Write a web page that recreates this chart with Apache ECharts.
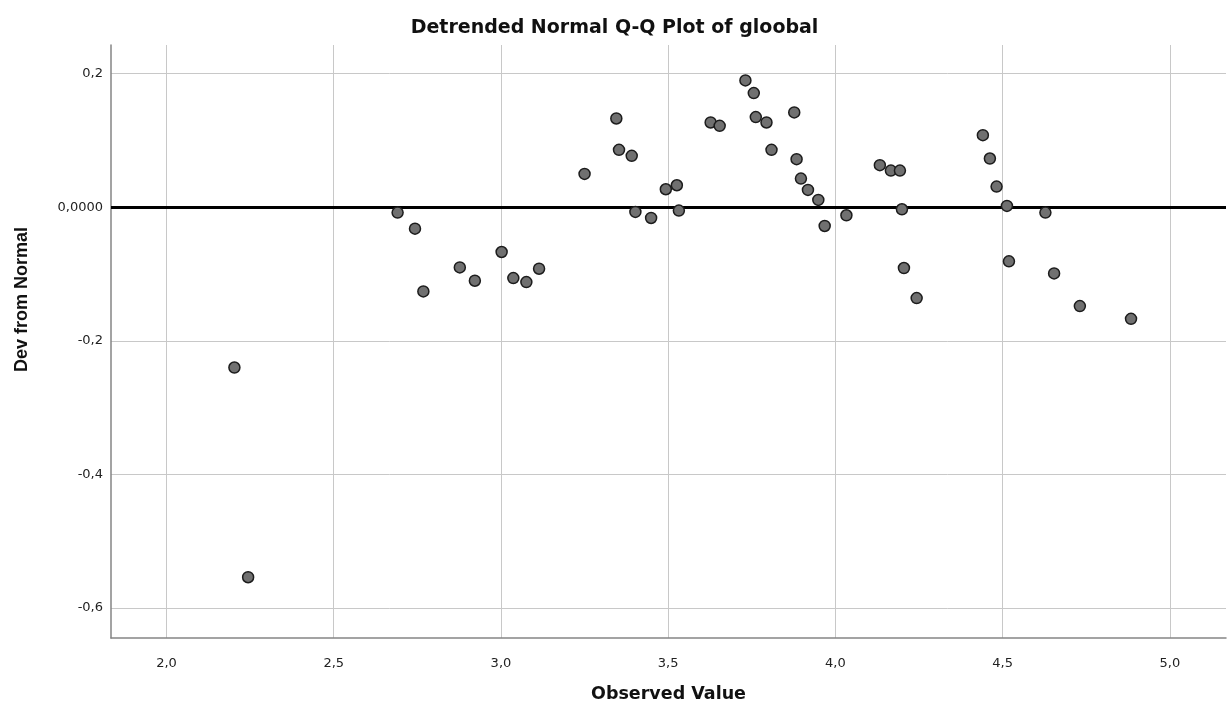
<!DOCTYPE html>
<html>
<head>
<meta charset="utf-8">
<script src="https://cdn.jsdelivr.net/npm/echarts@6/dist/echarts.min.js"></script>
<style>
  html, body { margin: 0; padding: 0; background: #fff; }
  #chart { width: 1229px; height: 716px; }
</style>
</head>
<body>
<div id="chart"></div>
<script>
const observed = [
  2.203, 2.244, 2.691, 2.743, 2.768, 2.877, 2.922, 3.002, 3.037, 3.076,
  3.114, 3.250, 3.345, 3.353, 3.391, 3.402, 3.449, 3.493, 3.526, 3.532,
  3.627, 3.654, 3.731, 3.756, 3.762, 3.794, 3.809, 3.877, 3.884, 3.897,
  3.918, 3.949, 3.968, 4.033, 4.133, 4.166, 4.193, 4.199, 4.205, 4.243,
  4.441, 4.462, 4.482, 4.513, 4.519, 4.628, 4.654, 4.731, 4.884
];
const devFromNormal = [
  -0.240, -0.554, -0.008, -0.032, -0.126, -0.090, -0.110, -0.067, -0.106, -0.112,
  -0.092, 0.050, 0.133, 0.086, 0.077, -0.007, -0.016, 0.027, 0.033, -0.005,
  0.127, 0.122, 0.190, 0.171, 0.135, 0.127, 0.086, 0.142, 0.072, 0.043,
  0.026, 0.011, -0.028, -0.012, 0.063, 0.055, 0.055, -0.003, -0.091, -0.136,
  0.108, 0.073, 0.031, 0.002, -0.081, -0.008, -0.099, -0.148, -0.167
];
const referenceLine = [0];

const points = observed.map((x, i) => [x, devFromNormal[i]]);

const FONT = 'DejaVu Sans';
const comma = (v, d) => v.toFixed(d).replace('.', ',');

const chart = echarts.init(document.getElementById('chart'));
chart.setOption({
  backgroundColor: '#ffffff',
  animation: false,
  title: {
    text: 'Detrended Normal Q-Q Plot of gloobal',
    left: 'center',
    top: 14,
    textStyle: { fontFamily: FONT, fontSize: 19, fontWeight: 'bold', color: '#111' }
  },
  grid: { left: 111, right: 3, top: 45, bottom: 78, containLabel: false },
  xAxis: {
    type: 'value',
    min: 1.834,
    max: 5.168,
    splitNumber: 6,
    name: 'Observed Value',
    nameLocation: 'middle',
    nameGap: 47,
    nameTextStyle: { fontFamily: FONT, fontSize: 17.5, fontWeight: 'bold', color: '#111' },
    axisLine: { onZero: false, lineStyle: { color: '#858585', width: 1.5 } },
    axisTick: { show: false },
    axisLabel: {
      showMinLabel: false, showMaxLabel: false,
      margin: 19,
      fontFamily: FONT, fontSize: 13, color: '#222',
      formatter: v => comma(v, 1)
    },
    splitLine: { show: true, showMinLine: false, showMaxLine: false, lineStyle: { color: '#c8c8c8', width: 1 } }
  },
  yAxis: {
    type: 'value',
    min: -0.645,
    max: 0.243,
    splitNumber: 5,
    name: 'Dev from Normal',
    nameLocation: 'middle',
    nameGap: 80,
    nameTextStyle: {
      fontFamily: 'Liberation Sans', fontSize: 18, fontWeight: 'bold', color: '#111',
      padding: [0, 0, 0, 84]
    },
    axisLine: { show: true, lineStyle: { color: '#858585', width: 1.5 } },
    axisTick: { show: false },
    axisLabel: {
      showMinLabel: false, showMaxLabel: false,
      margin: 8,
      fontFamily: FONT, fontSize: 13, color: '#222',
      formatter: v => (v === 0 ? '0,0000' : comma(v, 1))
    },
    splitLine: { show: true, showMinLine: false, showMaxLine: false, lineStyle: { color: '#c8c8c8', width: 1 } }
  },
  series: [{
    type: 'scatter',
    data: points,
    symbolSize: 11,
    itemStyle: { color: '#707070', borderColor: '#1c1c1c', borderWidth: 1.5, opacity: 1 },
    z: 3,
    markLine: {
      silent: true,
      symbol: 'none',
      label: { show: false },
      lineStyle: { color: '#000', width: 3, type: 'solid' },
      data: referenceLine.map(v => ({ yAxis: v })),
      z: 2
    }
  }]
});
</script>
</body>
</html>
